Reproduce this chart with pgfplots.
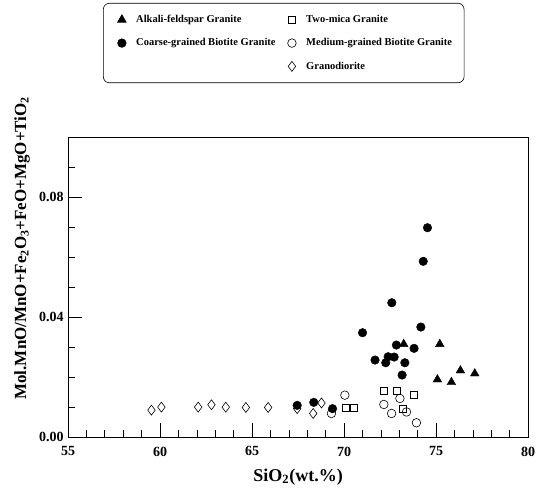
\documentclass[border=0pt]{standalone}
\usepackage{pgfplots}
\pgfplotsset{compat=1.18}
\usepackage{fontspec}
\setmainfont{Liberation Serif}
\begin{document}
\begin{tikzpicture}
\begin{axis}[
  scale only axis,
  width=460pt, height=300pt,
  xmin=55, xmax=80, ymin=0, ymax=0.1,
  xtick={55,60,65,70,75,80},
  minor xtick={56,57,58,59,61,62,63,64,66,67,68,69,71,72,73,74,76,77,78,79},
  ytick={0,0.04,0.08},
  minor ytick={0.01,0.02,0.03,0.05,0.06,0.07,0.09},
  xtick pos=bottom, ytick pos=left,
  tick align=inside,
  major tick length=14pt, minor tick length=7pt,
  tick style={black, line width=0.8pt},
  axis line style={line width=0.8pt},
  /pgf/number format/assume math mode=true,
  yticklabel style={/pgf/number format/fixed, /pgf/number format/zerofill, /pgf/number format/precision=2, xshift=-1pt},
  xticklabel style={yshift=-6pt},
  tick label style={font=\fontsize{14}{16}\selectfont\bfseries},
  xlabel={SiO\textsubscript{2}(wt.\%)},
  ylabel={Mol.MnO/MnO+Fe\textsubscript{2}O\textsubscript{3}+FeO+MgO+TiO\textsubscript{2}},
  xlabel style={font=\fontsize{18}{20}\selectfont\bfseries, at={(rel axis cs:0.5,-0.133)}, anchor=center},
  ylabel style={font=\fontsize{17}{19}\selectfont\bfseries, at={(rel axis cs:-0.1,0.63)}, anchor=center},
  clip=false,
  legend columns=2,
  legend cell align=left,
  legend style={at={(0.076,1.447)}, anchor=north west, draw=black, line width=0.6pt, rounded corners=6pt,
    font=\fontsize{10.5}{12}\selectfont\bfseries, inner xsep=10pt, inner ysep=10pt,
    /tikz/every odd column/.append style={column sep=8pt},
    /tikz/every even column/.append style={column sep=10pt}, row sep=10.5pt},
]
\addplot[only marks, mark=triangle*, mark size=5pt, black] coordinates {
(73.24,0.0310) (75.2,0.0310) (76.32,0.0222) (77.1,0.0212) (75.07,0.0192) (75.83,0.0183)
};
\addlegendentry{Alkali-feldspar Granite}
\addplot[only marks, mark=square, mark size=3.5pt, black, line width=0.6pt] coordinates {
(72.16,0.0154) (72.85,0.0154) (73.8,0.0140) (73.2,0.0096) (70.1,0.0097) (70.55,0.0097)
};
\addlegendentry{Two-mica Granite}
\addplot[only marks, mark=*, mark size=4.3pt, black] coordinates {
(74.53,0.0698) (74.30,0.0586) (72.59,0.0448) (74.17,0.0367) (71.0,0.0348) (72.84,0.0307)
(73.8,0.0296) (71.68,0.0257) (72.39,0.0268) (72.72,0.0267) (72.26,0.0248) (73.3,0.0248)
(73.15,0.0207) (67.45,0.0106) (68.35,0.0116) (69.37,0.0095)
};
\addlegendentry{Coarse-grained Biotite Granite}
\addplot[only marks, mark=o, mark size=4.3pt, black, line width=0.6pt] coordinates {
(70.04,0.0140) (69.31,0.0079) (73.03,0.0129) (72.16,0.0109) (72.58,0.0079) (73.39,0.0084) (73.93,0.0048)
};
\addlegendentry{Medium-grained Biotite Granite}
\addlegendimage{empty legend}
\addlegendentry{}
\addplot[only marks, mark=diamond, mark size=5pt, black, line width=0.6pt] coordinates {
(59.53,0.0090) (60.07,0.0100) (62.07,0.0100) (62.79,0.0108) (63.57,0.0100) (64.66,0.0099)
(65.87,0.0099) (67.45,0.0095) (68.32,0.0079) (68.77,0.0114)
};
\addlegendentry{Granodiorite}
\path (rel axis cs:-0.148,-0.193) rectangle (rel axis cs:1.041,1.457);
\end{axis}
\end{tikzpicture}
\end{document}
